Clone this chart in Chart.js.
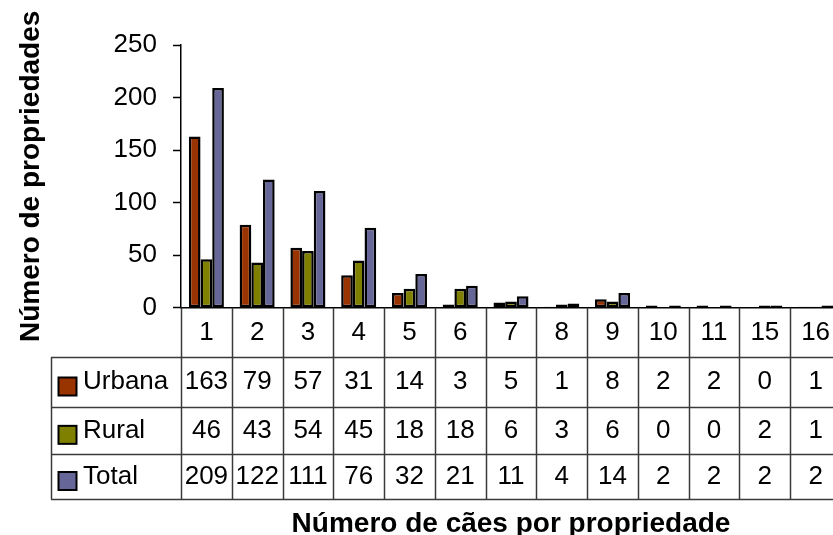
<!DOCTYPE html>
<html>
<head>
<meta charset="utf-8">
<script src="https://cdn.jsdelivr.net/npm/chart.js@4.4.1/dist/chart.umd.min.js"></script>
<style>
  html, body { margin: 0; padding: 0; background: #fff; overflow: hidden; }
  #wrap { width: 833px; height: 535px; overflow: hidden; position: relative; }
  canvas { display: block; }
</style>
</head>
<body>
<div id="wrap"><canvas id="c" width="862" height="535"></canvas></div>
<script>
// ---- data ----
const categories = ['1', '2', '3', '4', '5', '6', '7', '8', '9', '10', '11', '15', '16'];
const urbana = [163, 79, 57, 31, 14, 3, 5, 1, 8, 2, 2, 0, 1];
const rural  = [46, 43, 54, 45, 18, 18, 6, 3, 6, 0, 0, 2, 1];
const total  = [209, 122, 111, 76, 32, 21, 11, 4, 14, 2, 2, 2, 2];
const seriesNames = ['Urbana', 'Rural', 'Total'];
const yTicks = [0, 50, 100, 150, 200, 250];
const xTitle = 'Número de cães por propriedade';
const yTitle = 'Número de propriedades';

// ---- styles ----
const colors = ['#993300', '#808000', '#666699'];
const FONT = '"Liberation Sans", Arial, sans-serif';
Chart.defaults.font.family = FONT;
Chart.defaults.color = '#000';

const seriesData = [urbana, rural, total];

const tablePlugin = {
  id: 'dataTable',
  afterDraw(chart) {
    const ctx = chart.ctx;
    const xs = chart.scales.x;
    const area = chart.chartArea;
    const n = categories.length;
    const cw = (area.right - area.left) / n;
    const tableLeft = 51;
    const rowH = [49.6, 49.4, 47.3, 45];
    const ys = [area.bottom];
    rowH.forEach(h => ys.push(ys[ys.length - 1] + h));
    const bottom = ys[ys.length - 1];

    ctx.save();
    ctx.strokeStyle = '#3a3a3a';
    ctx.lineWidth = 1.5;
    for (let i = 0; i <= n; i++) {
      const x = Math.round(xs.getPixelForValue(i) - cw / 2) + 0.5;
      ctx.beginPath();
      ctx.moveTo(x, ys[0]);
      ctx.lineTo(x, bottom);
      ctx.stroke();
    }
    ctx.beginPath();
    ctx.moveTo(tableLeft + 0.5, ys[1]);
    ctx.lineTo(tableLeft + 0.5, bottom);
    ctx.stroke();
    for (let r = 1; r < ys.length; r++) {
      const y = Math.round(ys[r]) + 0.5;
      ctx.beginPath();
      ctx.moveTo(tableLeft, y);
      ctx.lineTo(area.right, y);
      ctx.stroke();
    }

    ctx.fillStyle = '#000';
    ctx.font = '26px ' + FONT;
    ctx.textBaseline = 'middle';
    ctx.textAlign = 'center';
    const hy = (ys[0] + ys[1]) / 2;
    for (let i = 0; i < n; i++) {
      ctx.fillText(categories[i], xs.getPixelForValue(i), hy);
    }
    for (let s = 0; s < seriesData.length; s++) {
      const yc = (ys[s + 1] + ys[s + 2]) / 2;
      ctx.fillStyle = colors[s];
      ctx.fillRect(58.5, yc - 4.5, 18, 18);
      ctx.strokeStyle = '#000';
      ctx.lineWidth = 2;
      ctx.strokeRect(58.5, yc - 4.5, 18, 18);
      ctx.fillStyle = '#000';
      ctx.textAlign = 'left';
      ctx.fillText(seriesNames[s], 83, yc);
      ctx.textAlign = 'center';
      for (let i = 0; i < n; i++) {
        ctx.fillText(String(seriesData[s][i]), xs.getPixelForValue(i), yc);
      }
    }
    ctx.restore();
  }
};

new Chart(document.getElementById('c'), {
  type: 'bar',
  data: {
    labels: categories,
    datasets: seriesNames.map((name, k) => ({
      label: name,
      data: seriesData[k],
      backgroundColor: colors[k],
      borderColor: '#000',
      borderWidth: 2.5,
      borderSkipped: false,
      categoryPercentage: 0.69,
      barPercentage: 1.0
    }))
  },
  options: {
    responsive: false,
    animation: false,
    events: [],
    layout: { padding: { top: 45, right: 21, bottom: 0, left: 0 } },
    plugins: { legend: { display: false }, tooltip: { enabled: false } },
    scales: {
      x: {
        grid: { display: false },
        border: { display: true, color: '#000', width: 1.5 },
        ticks: { display: false },
        title: {
          display: true, text: xTitle, color: '#000',
          font: { size: 28, weight: 'bold', lineHeight: 1 },
          padding: { top: 0, bottom: -3 }
        },
        afterFit(scale) { scale.height = 535 - 307.7; }
      },
      y: {
        min: 0, max: 250,
        afterBuildTicks(scale) { scale.ticks = yTicks.map(v => ({ value: v })); },
        grid: { display: true, drawOnChartArea: false, drawTicks: true, tickLength: 8, color: '#000', tickColor: '#000', tickWidth: 1.5 },
        border: { display: true, color: '#000', width: 1.5 },
        ticks: { font: { size: 26 }, color: '#000', padding: 16 },
        title: {
          display: true, text: yTitle, color: '#000',
          font: { size: 28, weight: 'bold', lineHeight: 1.2 },
          padding: { top: 14.5, bottom: 0 }
        },
        afterFit(scale) { scale.width = 181; }
      }
    }
  },
  plugins: [tablePlugin]
});
</script>
</body>
</html>
